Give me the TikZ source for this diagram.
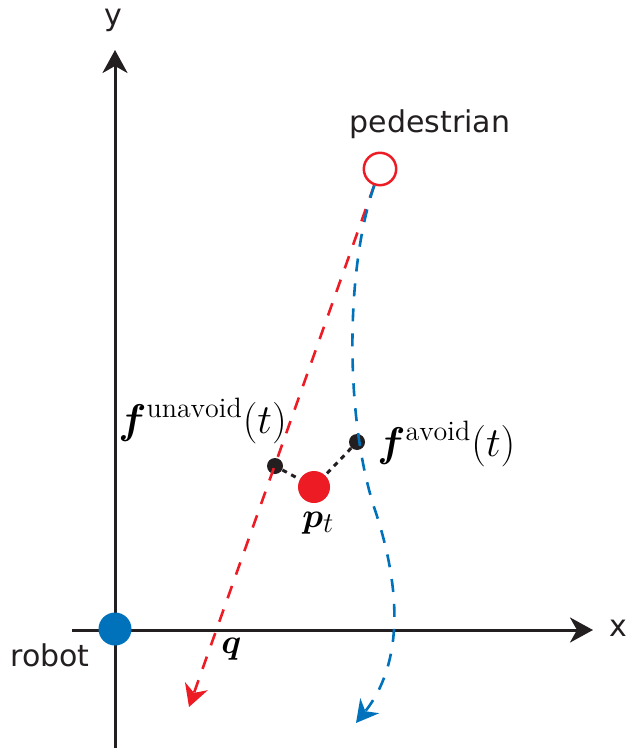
\documentclass[tikz,border=0pt]{standalone}
\usepackage{fontspec}
\newfontfamily\sansf{DejaVu Sans}
\usepackage{amsmath,bm}
\usetikzlibrary{arrows.meta}
\definecolor{myred}{RGB}{237,28,36}
\definecolor{myblue}{RGB}{0,114,188}
\definecolor{axcol}{RGB}{35,31,32}
\begin{document}
\begin{tikzpicture}[x=0.5pt,y=-0.5pt,
  axis/.style={line width=1.5pt, draw=axcol, -{Stealth[length=11.5pt,width=12.5pt,inset=3.5pt]}},
  lab/.style={font=\sansf\fontsize{15}{18}\selectfont, text=axcol, inner sep=0pt},
  mlab/.style={font=\fontsize{19}{22}\selectfont, inner sep=0pt},
  flab/.style={font=\fontsize{20}{24}\selectfont, inner sep=0pt},
  dot/.style={circle, inner sep=0pt},
  redpath/.style={draw=myred, line width=1.3pt, dash pattern=on 6.5pt off 6pt, -{Stealth[length=11pt,width=12pt,inset=3.5pt]}},
  bluepath/.style={draw=myblue, line width=1.3pt, dash pattern=on 6.5pt off 6pt, -{Stealth[length=11pt,width=12pt,inset=3.5pt]}},
  link/.style={draw=axcol, line width=1.5pt, dash pattern=on 2.5pt off 2.5pt}]
\useasboundingbox (0,0) rectangle (628,748);
% axes
\coordinate (yb) at (115,748);
\coordinate (yt) at (115,50);
\coordinate (xl) at (72,630);
\coordinate (xr) at (593,630);
\draw[axis] (yb) -- (yt);
\draw[axis] (xl) -- (xr);
\node[lab, anchor=base] (ylab) at (113,26) {y};
\node[lab, anchor=base] (xlab) at (618,636) {x};
% nodes
\node[dot, fill=myblue, minimum size=16.5pt] (robot) at (115,629) {};
\node[lab, anchor=base] (robotlab) at (50,666) {robot};
\node[dot, draw=myred, line width=1.25pt, minimum size=16.2pt] (ped) at (380,169) {};
\node[lab, anchor=base] (pedlab) at (430,133) {pedestrian};
\node[dot, fill=myred, minimum size=16pt] (pt) at (314,487) {};
\node[dot, fill=axcol, minimum size=8pt] (fu) at (275,466) {};
\node[dot, fill=axcol, minimum size=8pt] (fa) at (357,442) {};
% labels
\node[flab, anchor=base west] (fulab) at (118,433) {$\boldsymbol{f}^{\mathrm{unavoid}}(t)$};
\node[flab, anchor=base west] (falab) at (377,456) {$\boldsymbol{f}^{\mathrm{avoid}}(t)$};
\node[mlab, anchor=base west] (ptlab) at (302,527) {$\boldsymbol{p}_t$};
\node[mlab, anchor=base west] (qlab) at (221,653) {$\boldsymbol{q}$};
% trajectories
\coordinate (rend) at (189,707);
\coordinate (bend) at (356,723);
\draw[redpath] (ped) -- (rend);
\draw[bluepath] (ped) .. controls (345,270) and (345,420) .. (375,510) .. controls (395,570) and (410,655) .. (bend);
% links
\draw[link] (fu) -- (pt);
\draw[link] (fa) -- (pt);
\end{tikzpicture}
\end{document}
